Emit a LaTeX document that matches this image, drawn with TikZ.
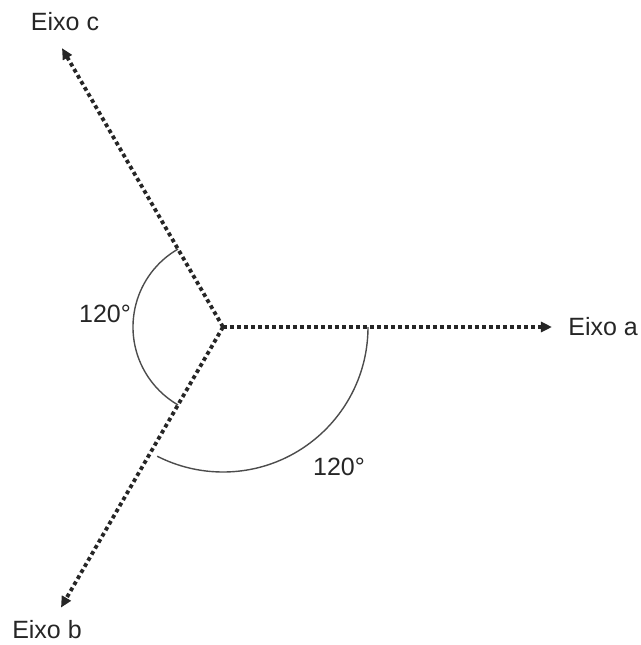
\documentclass[tikz,border=0pt]{standalone}
\usepackage{fontspec}
\setmainfont{Liberation Sans}
\usetikzlibrary{arrows.meta,positioning}
\tikzset{
  axisline/.style={line width=1.9pt,dash pattern=on 1.9pt off 1.6pt,
    -{Triangle[length=5.5pt,width=5pt]},color=black!85},
  anglearc/.style={line width=0.7pt,color=black!70},
  axislabel/.style={font=\fontsize{12.5}{15}\selectfont,inner sep=0pt,text=black!85}
}

\begin{document}
\begin{tikzpicture}[x=0.5pt,y=0.5pt]
  \useasboundingbox (-223,-318) rectangle (418,327);
  \coordinate (o) at (0,0);
  \coordinate (tipa) at (329,0);
  \coordinate (tipc) at (120:322);
  \coordinate (tipb) at (240:324);
  % axes
  \foreach \t in {tipa,tipb,tipc} \draw[axisline] (o)--(\t);
  % angle arcs
  \draw[anglearc] ([shift={(120:90)}]o) arc[start angle=120,end angle=240,radius=90];
  \draw[anglearc] ([shift={(0:145)}]o) arc[start angle=0,end angle=-117,radius=145];
  % labels
  \node[axislabel,anchor=west] (lbla) at (345,0) {Eixo a};
  \node[axislabel] (lblc) at (-158,305) {Eixo c};
  \node[axislabel] (lblb) at (-176,-303) {Eixo b};
  \node[axislabel] (angcb) at (-118,13) {120°};
  \node[axislabel] (angab) at (116,-140) {120°};
\end{tikzpicture}
\end{document}
